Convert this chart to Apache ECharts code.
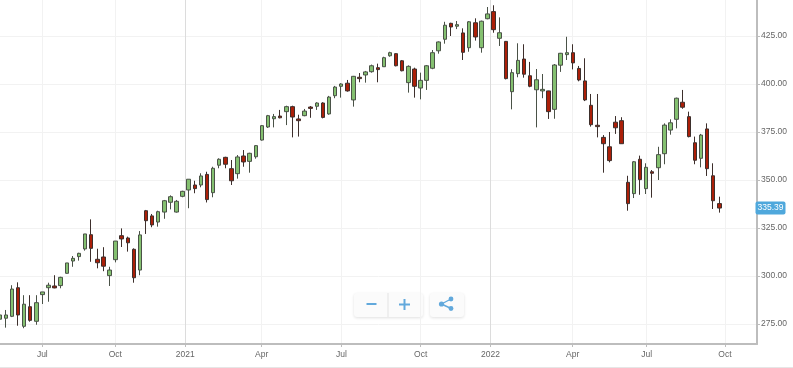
<!DOCTYPE html>
<html><head><meta charset="utf-8">
<style>html,body{margin:0;padding:0;background:#fff}#c{width:793px;height:368px}</style>
<script src="https://cdn.jsdelivr.net/npm/echarts@6/dist/echarts.min.js"></script>
</head><body><div id="c"></div>
<script>
const opens=[277.5,278.0,279.0,293.9,273.8,284.0,276.4,290.3,293.9,294.8,295.0,301.4,307.8,310.1,314.1,321.5,308.7,309.9,300.2,308.5,321.0,319.8,313.9,303.1,334.0,331.3,328.1,333.3,338.4,333.3,341.5,344.8,347.4,347.4,352.9,343.4,357.7,361.8,355.9,353.3,362.5,359.7,362.1,370.8,377.6,381.9,383.3,385.6,388.2,381.8,383.5,388.0,388.4,390.1,384.4,393.9,398.8,400.4,391.7,403.5,404.7,406.4,408.5,409.0,414.7,415.8,412.1,400.7,407.8,397.9,401.9,408.2,417.3,423.3,431.6,430.1,426.6,418.9,431.9,418.9,434.0,437.7,423.8,422.2,396.0,405.4,413.0,404.3,397.0,396.4,396.4,386.8,409.8,415.3,416.3,408.1,401.6,388.9,378.5,372.2,367.3,380.1,380.9,348.8,342.9,360.8,345.5,354.3,356.4,363.7,376.0,381.6,390.5,383.0,369.4,361.3,376.6,352.2,337.7];
const closes=[279.7,279.7,293.2,279.7,285.3,276.9,286.1,291.7,295.2,293.8,299.3,306.8,309.2,311.8,321.9,314.4,306.9,305.1,303.1,318.2,319.3,317.3,299.1,321.4,328.8,326.6,333.5,339.2,341.3,338.9,344.1,350.4,345.5,352.1,339.8,356.1,360.8,358.2,349.6,362.0,359.4,363.9,367.9,378.3,383.5,383.0,382.4,388.2,382.8,380.9,385.9,387.3,390.1,382.6,393.2,398.4,400.0,396.4,404.0,402.8,406.3,409.5,407.5,413.7,416.3,409.5,406.9,409.2,398.8,401.9,409.5,416.3,421.9,430.6,429.7,430.9,416.5,432.4,424.5,432.7,436.5,428.3,426.7,402.8,405.9,412.3,405.1,398.8,402.2,397.2,385.6,409.9,416.0,416.3,411.0,402.1,391.7,378.8,377.8,368.9,360.1,377.2,368.9,337.7,359.5,350.2,356.6,353.5,363.2,378.6,379.8,392.6,387.9,372.6,360.3,373.4,355.9,339.2,335.39];
const highs=[279.7,282.3,295.2,296.7,290.0,290.0,290.0,291.7,296.5,300.4,299.6,306.8,310.4,312.1,321.9,329.5,314.2,315.0,304.8,318.2,324.8,320.5,314.4,323.4,334.4,332.3,334.0,339.6,342.0,339.6,344.4,350.4,349.6,353.5,354.3,356.9,361.3,362.1,360.4,363.0,365.6,364.2,368.2,378.6,383.9,384.4,386.5,388.7,388.7,384.0,387.0,388.5,390.5,390.5,393.8,399.0,400.4,402.1,404.2,405.7,406.8,410.1,410.6,414.2,416.8,416.0,412.5,409.7,408.5,405.9,409.9,417.7,422.2,432.4,431.9,432.8,429.0,432.8,434.2,433.0,440.1,441.0,434.7,422.4,407.7,421.2,420.7,411.5,407.8,405.2,396.5,410.4,416.2,424.6,420.7,409.4,413.4,394.8,394.8,373.4,375.0,383.3,382.7,352.2,359.9,362.7,358.7,355.2,367.3,379.5,381.6,392.9,396.9,385.6,372.6,374.0,379.5,358.7,341.3];
const lows=[277.5,273.1,278.6,274.1,272.8,276.2,274.6,285.4,286.6,293.6,293.6,301.2,304.8,308.0,313.2,307.4,304.0,302.5,294.8,307.1,315.1,312.7,296.5,300.4,321.9,325.4,325.7,329.8,334.7,333.0,341.0,335.3,343.1,346.2,338.3,341.0,356.1,356.1,347.4,350.7,356.9,353.8,361.1,370.5,377.1,377.4,382.1,378.6,372.2,372.6,383.2,382.4,386.5,382.1,384.0,392.6,392.9,396.0,388.2,400.9,400.7,405.9,400.9,408.9,414.2,409.2,406.6,395.5,392.9,392.0,396.9,407.7,415.8,421.0,425.0,428.6,412.5,416.8,422.6,416.3,433.7,426.7,419.8,402.4,386.8,403.5,403.3,398.3,377.4,392.6,381.8,381.9,406.3,412.5,407.6,401.4,391.1,377.8,372.2,353.8,359.2,374.0,368.8,334.0,340.6,342.3,342.7,340.8,350.0,358.2,373.6,376.9,387.1,372.2,358.2,356.6,352.1,334.9,333.0];
const monthTicks=[6.99,18.96,30.44,42.97,56.05,69.04,80.49,93.97,106.1,118.94];
const monthLabels=['Jul','Oct','2021','Apr','Jul','Oct','2022','Apr','Jul','Oct'];
const yearTicks=[30.44,80.49];
const priceTicks=[275,300,325,350,375,400,425];
const lastPrice=335.39;

const candles=opens.map((o,i)=>[i,o,closes[i],lows[i],highs[i]]);
const xMin=0.05,xMax=124.19;
const font='"Liberation Sans",Arial,sans-serif';
const blue='#62a9dc';
const chart=echarts.init(document.getElementById('c'),null,{renderer:'canvas'});
chart.setOption({
  animation:false,
  backgroundColor:'#fff',
  grid:{left:0,right:36,top:0,bottom:24,containLabel:false,outerBoundsMode:'none'},
  xAxis:[{
    type:'value',min:xMin,max:xMax,position:'bottom',
    axisLine:{show:true,onZero:false,lineStyle:{color:'#bdbdbd',width:2}},
    axisTick:{show:true,length:3,lineStyle:{color:'#bdbdbd'},customValues:monthTicks},
    axisLabel:{show:true,customValues:monthTicks,color:'#666',fontSize:8.5,fontFamily:font,margin:6,hideOverlap:false,
      formatter:(v)=>monthLabels[monthTicks.indexOf(v)]},
    splitLine:{show:true,lineStyle:{color:'#f2f2f2',width:1}}
  },{
    type:'value',min:xMin,max:xMax,position:'bottom',
    axisLine:{show:false},axisTick:{show:false,customValues:yearTicks},
    axisLabel:{show:false,customValues:yearTicks},
    splitLine:{show:true,lineStyle:{color:'#dcdcdc',width:1}}
  }],
  yAxis:{
    type:'value',position:'right',min:264.58,max:443.75,scale:true,
    axisLine:{show:true,onZero:false,lineStyle:{color:'#bdbdbd',width:2}},
    axisTick:{show:true,length:3,lineStyle:{color:'#bdbdbd'},customValues:priceTicks},
    axisLabel:{show:true,customValues:priceTicks,color:'#666',fontSize:8.5,fontFamily:font,margin:4,
      formatter:(v)=>v.toFixed(2)},
    splitLine:{show:true,lineStyle:{color:'#f2f2f2',width:1}},
    axisPointer:{show:true,status:'show',value:lastPrice,triggerTooltip:false,triggerEmphasis:false,
      lineStyle:{opacity:0,width:0},
      label:{show:true,precision:2,backgroundColor:'#4fa8dc',color:'#fff',fontSize:8.5,fontFamily:font,
        borderRadius:2,padding:[2,2,2,2],margin:-1.5}}
  },
  series:[{
    type:'candlestick',xAxisIndex:0,yAxisIndex:0,
    data:candles,encode:{x:0,y:[1,2,3,4]},
    barWidth:4,clip:true,
    itemStyle:{color:'#84c070',color0:'#ab1f08',borderColor:'#4a5247',borderColor0:'#3d2f2c',borderWidth:1}
  }],
  graphic:[
    {type:'rect',silent:true,shape:{x:354,y:293,width:69,height:24,r:3},style:{fill:'#fbfbfb',shadowBlur:3,shadowColor:'rgba(0,0,0,0.12)',shadowOffsetY:1}},
    {type:'rect',silent:true,shape:{x:387.5,y:293,width:1,height:24},style:{fill:'#e4e4e4'}},
    {type:'rect',silent:true,shape:{x:430,y:293,width:34,height:24,r:3},style:{fill:'#fbfbfb',shadowBlur:3,shadowColor:'rgba(0,0,0,0.12)',shadowOffsetY:1}},
    {type:'rect',silent:true,shape:{x:366.5,y:303,width:10,height:2},style:{fill:blue}},
    {type:'rect',silent:true,shape:{x:399,y:303.5,width:11,height:2},style:{fill:blue}},
    {type:'rect',silent:true,shape:{x:403.5,y:299,width:2,height:11},style:{fill:blue}},
    {type:'line',silent:true,shape:{x1:441.5,y1:304,x2:451,y2:299},style:{stroke:blue,lineWidth:1.4}},
    {type:'line',silent:true,shape:{x1:441.5,y1:304,x2:451,y2:308.5},style:{stroke:blue,lineWidth:1.4}},
    {type:'circle',silent:true,shape:{cx:441.5,cy:304,r:2.6},style:{fill:blue}},
    {type:'circle',silent:true,shape:{cx:451,cy:299,r:2.4},style:{fill:blue}},
    {type:'circle',silent:true,shape:{cx:451,cy:308.5,r:2.4},style:{fill:blue}},
    {type:'rect',silent:true,shape:{x:0,y:367,width:793,height:1},style:{fill:'#e6e6e6'}}
  ]
});
</script></body></html>
